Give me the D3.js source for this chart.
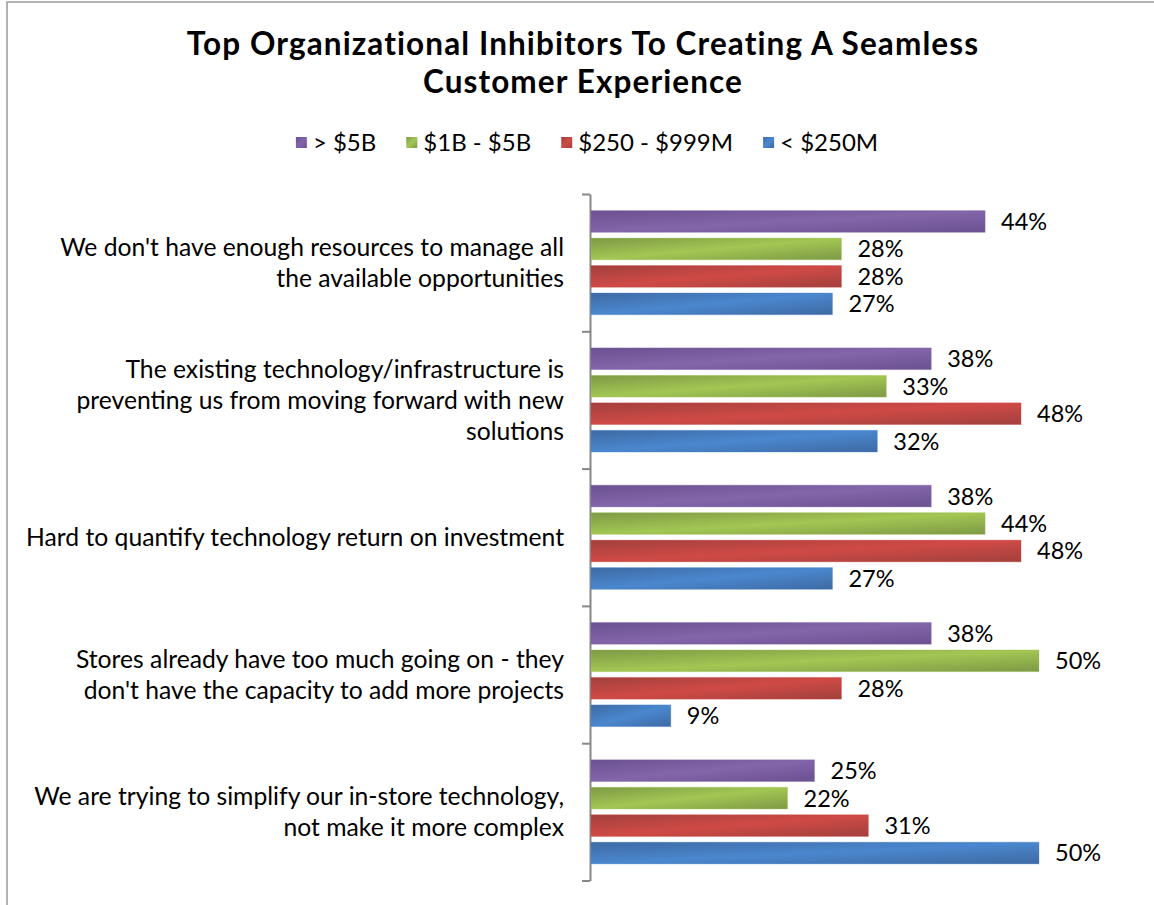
<!DOCTYPE html>
<html>
<head>
<meta charset="utf-8">
<script src="https://cdn.jsdelivr.net/npm/d3@7"></script>
<style>
  html, body { margin: 0; padding: 0; background: #fff; }
  svg { display: block; font-family: Lato, "Open Sans", sans-serif; }
</style>
</head>
<body>
<svg id="chart" width="1154" height="905"></svg>
<script>
// Survey answers, one entry per category (label lines as drawn)
const categories = [
  ["We don't have enough resources to manage all", "the available opportunities"],
  ["The existing technology/infrastructure is", "preventing us from moving forward with new", "solutions"],
  ["Hard to quantify technology return on investment"],
  ["Stores already have too much going on - they", "don't have the capacity to add more projects"],
  ["We are trying to simplify our in-store technology,", "not make it more complex"]
];

// Revenue bands (legend order)
const series = ["> $5B", "$1B - $5B", "$250 - $999M", "< $250M"];

// Share of respondents (%) per category, one array per revenue band
const over5B        = [44, 38, 38, 38, 25];
const from1To5B     = [28, 33, 44, 50, 22];
const from250To999M = [28, 48, 48, 28, 31];
const under250M     = [27, 32, 27, 9, 50];

const titleLines = ["Top Organizational Inhibitors To Creating A Seamless", "Customer Experience"];

const seriesValues = [over5B, from1To5B, from250To999M, under250M];

// Bar fills: [edge, highlight]
const palette = [
  ["#6b5190", "#8365aa"],
  ["#7e9946", "#a3c653"],
  ["#a2403d", "#cf4a46"],
  ["#3e6aa3", "#4a87ce"]
];

const svg = d3.select("#chart");

// frame
svg.append("rect")
  .attr("x", 7).attr("y", 2)
  .attr("width", 1160).attr("height", 920)
  .attr("fill", "#fff")
  .attr("stroke", "#9a9a9a")
  .attr("stroke-width", 1.5);

// gradients
const defs = svg.append("defs");
palette.forEach((c, i) => {
  const g = defs.append("linearGradient")
    .attr("id", "grad" + i)
    .attr("x1", 0).attr("y1", 0).attr("x2", 1).attr("y2", 1);
  g.append("stop").attr("offset", "0%").attr("stop-color", c[0]);
  g.append("stop").attr("offset", "50%").attr("stop-color", c[1]);
  g.append("stop").attr("offset", "100%").attr("stop-color", c[0]);
});

// title, one text per line
svg.append("g").selectAll("text").data(titleLines).join("text")
  .attr("text-anchor", "middle")
  .attr("font-size", 31.5).attr("font-weight", 700)
  .attr("letter-spacing", 1.1)
  .attr("fill", "#000")
  .attr("x", 583)
  .attr("y", (d, i) => 55 + i * 38)
  .text(d => d);

// scales
const x = d3.scaleLinear().domain([0, 60]).range([590, 1128.8]);
const y = d3.scaleBand().domain(d3.range(categories.length)).range([194, 880.5]);
const ySub = d3.scaleBand().domain(series)
  .range([16.6, y.bandwidth() - 16.6])
  .paddingInner(0.21);

// axis with ticks between categories
const yEdges = d3.scaleLinear().domain([0, categories.length]).range([194, 880.5]);
const axis = svg.append("g")
  .attr("transform", "translate(590,0)")
  .call(d3.axisLeft(yEdges).tickValues(d3.range(categories.length + 1))
    .tickSize(8).tickSizeOuter(0).tickFormat(""));
axis.selectAll("path, line").attr("stroke", "#878787").attr("stroke-width", 2);

// bars
const groups = svg.append("g").selectAll("g")
  .data(categories.map((c, i) => i)).join("g")
  .attr("transform", i => `translate(0,${y(i)})`);

groups.selectAll("rect")
  .data(i => series.map((s, k) => ({ s, k, v: seriesValues[k][i] })))
  .join("rect")
  .attr("x", x(0) + 1)
  .attr("y", d => ySub(d.s))
  .attr("width", d => x(d.v) - x(0) - 1)
  .attr("height", ySub.bandwidth())
  .attr("fill", d => `url(#grad${d.k})`)
  .attr("stroke", d => palette[d.k][1])
  .attr("stroke-opacity", 0.35)
  .attr("stroke-width", 1);

groups.selectAll("text.val")
  .data(i => series.map((s, k) => ({ s, k, v: seriesValues[k][i] })))
  .join("text")
  .attr("class", "val")
  .attr("x", d => x(d.v) + 16)
  .attr("y", d => ySub(d.s) + ySub.bandwidth() / 2)
  .attr("dy", "0.36em")
  .attr("font-size", 23.5)
  .attr("fill", "#000")
  .text(d => d.v + "%");

// category labels
const lineH = 31;
svg.append("g").selectAll("text")
  .data(categories.map((c, i) => ({ lines: c, i }))).join("text")
  .attr("text-anchor", "end")
  .attr("font-size", 24.7)
  .attr("fill", "#000")
  .each(function(d) {
    const cy = y(d.i) + y.bandwidth() / 2;
    const top = cy - (d.lines.length - 1) * lineH / 2;
    d3.select(this).selectAll("tspan").data(d.lines).join("tspan")
      .attr("x", 564)
      .attr("y", (l, j) => top + j * lineH)
      .attr("dy", "0.36em")
      .text(l => l);
  });

// legend
const legend = svg.append("g");
const items = legend.selectAll("g").data(series).join("g");
items.append("rect")
  .attr("y", 137).attr("width", 11).attr("height", 11)
  .attr("fill", (d, k) => `url(#grad${k})`);
items.append("text")
  .attr("x", 17).attr("y", 151)
  .attr("font-size", 24)
  .attr("fill", "#000")
  .text(d => d);
let cursor = 0;
const offsets = [];
const itemGap = 30;
items.each(function() {
  offsets.push(cursor);
  const w = d3.select(this).select("text").node().getComputedTextLength();
  cursor += 17 + w + itemGap;
});
const total = cursor - itemGap;
const startX = 587 - total / 2;
items.attr("transform", (d, k) => `translate(${startX + offsets[k]},0)`);
</script>
</body>
</html>
